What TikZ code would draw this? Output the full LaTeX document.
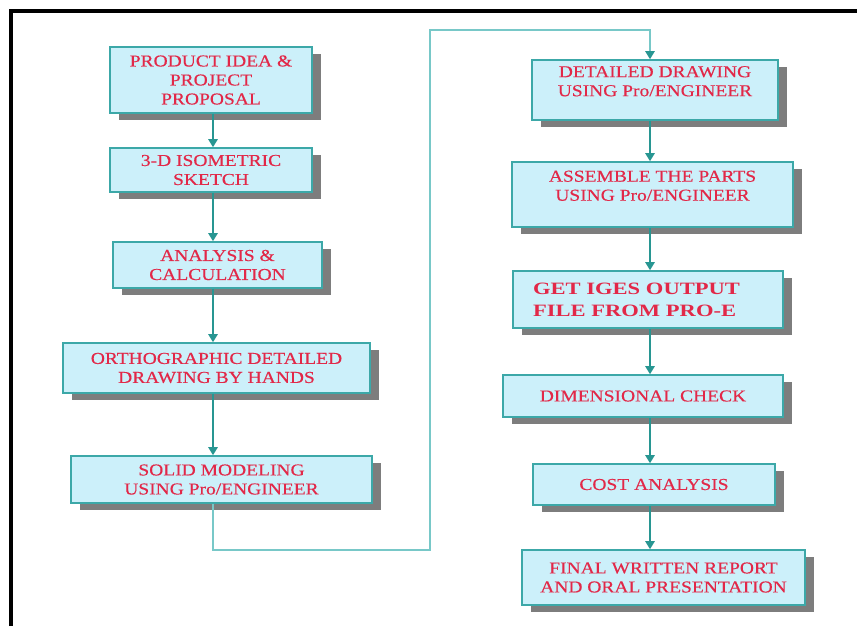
\documentclass[tikz,border=0pt]{standalone}
\usepackage{fontspec}
\usepackage{tikz}
\usetikzlibrary{positioning, shapes, arrows.meta, shadows, calc}
\newfontfamily\boxfont[FakeStretch=1.17, FakeBold=0.4]{Liberation Serif}
\newfontfamily\boldboxfont[FakeStretch=1.3]{Liberation Serif}
\definecolor{boxfill}{RGB}{204,240,250}
\definecolor{boxline}{RGB}{60,168,168}
\definecolor{flowline}{RGB}{40,150,146}
\definecolor{loopline}{RGB}{120,200,200}
\definecolor{txtred}{RGB}{226,40,72}
\definecolor{shadowgray}{RGB}{125,125,125}

\begin{document}
\begin{tikzpicture}[x=0.75pt, y=-0.75pt,
    stepbox/.style={draw=boxline, line width=1.2pt, fill=boxfill, align=center, inner sep=0pt,
      text=txtred, font=\boxfont\fontsize{12.5}{14.25}\selectfont,
      copy shadow={shadow xshift=7pt, shadow yshift=-5.5pt, fill=shadowgray, draw=none}},
    flow/.style={draw=flowline, line width=1.2pt, -{Triangle[length=6pt, width=7pt]}},
  ]
    \useasboundingbox (0,0) rectangle (857,626);
    % frame
    \draw[line width=2.4pt] (11,626) -- (11,11) -- (857,11);

    % left column
    \node[stepbox, minimum width=151.5pt, minimum height=49.5pt] (idea) at (211,80)
        {PRODUCT IDEA \&\\PROJECT\\PROPOSAL};
    \node[stepbox, minimum width=151.5pt, minimum height=33pt] (sketch) at (211,170)
        {3-D ISOMETRIC\\SKETCH};
    \node[stepbox, minimum width=156.75pt, minimum height=34.5pt] (calc) at (217.5,265)
        {ANALYSIS \&\\CALCULATION};
    \node[stepbox, minimum width=230.25pt, minimum height=37.5pt] (ortho) at (216.5,368)
        {ORTHOGRAPHIC DETAILED\\DRAWING BY HANDS};
    \node[stepbox, minimum width=225.75pt, minimum height=35.25pt] (solid) at (221.5,479.5)
        {SOLID MODELING\\USING Pro/ENGINEER};

    % right column (text sits high in the first two boxes)
    \node[stepbox, minimum width=184.5pt, minimum height=45pt] (detail) at (655,90)
        {DETAILED DRAWING\\USING Pro/ENGINEER\\[-1pt]\mbox{}};
    \node[stepbox, minimum width=210.75pt, minimum height=48.75pt] (assemble) at (652.5,194.5)
        {ASSEMBLE THE PARTS\\USING Pro/ENGINEER\\[-1pt]\mbox{}};
    \node[stepbox, minimum width=202.5pt, minimum height=42.75pt, text width=172.5pt, align=left,
          font=\boldboxfont\bfseries\fontsize{13}{16.5}\selectfont] (iges) at (648,299.5)
        {GET IGES OUTPUT\\FILE FROM PRO-E};
    \node[stepbox, minimum width=210pt, minimum height=31.5pt] (dimcheck) at (643,396)
        {DIMENSIONAL CHECK};
    \node[stepbox, minimum width=181.5pt, minimum height=30.75pt] (cost) at (654,484.5)
        {COST ANALYSIS};
    \node[stepbox, minimum width=212.25pt, minimum height=41.25pt] (report) at (663.5,577.5)
        {FINAL WRITTEN REPORT\\AND ORAL PRESENTATION};

    % arrows
    \coordinate (colA) at (213,0);
    \coordinate (colB) at (650,0);
    \coordinate (low) at (430,550);
    \coordinate (high) at (430,30);
    \draw[flow] (idea.south -| colA) -- (sketch.north -| colA);
    \draw[flow] (sketch.south -| colA) -- (calc.north -| colA);
    \draw[flow] (calc.south -| colA) -- (ortho.north -| colA);
    \draw[flow] (ortho.south -| colA) -- (solid.north -| colA);
    \draw[flow, draw=loopline, line width=1.1pt, -{Triangle[length=6pt, width=7pt, color=flowline]}]
        (solid.south -| colA) |- (low) -- (high) -| (detail.north -| colB);
    \draw[flow] (detail.south -| colB) -- (assemble.north -| colB);
    \draw[flow] (assemble.south -| colB) -- (iges.north -| colB);
    \draw[flow] (iges.south -| colB) -- (dimcheck.north -| colB);
    \draw[flow] (dimcheck.south -| colB) -- (cost.north -| colB);
    \draw[flow] (cost.south -| colB) -- (report.north -| colB);
\end{tikzpicture}
\end{document}
